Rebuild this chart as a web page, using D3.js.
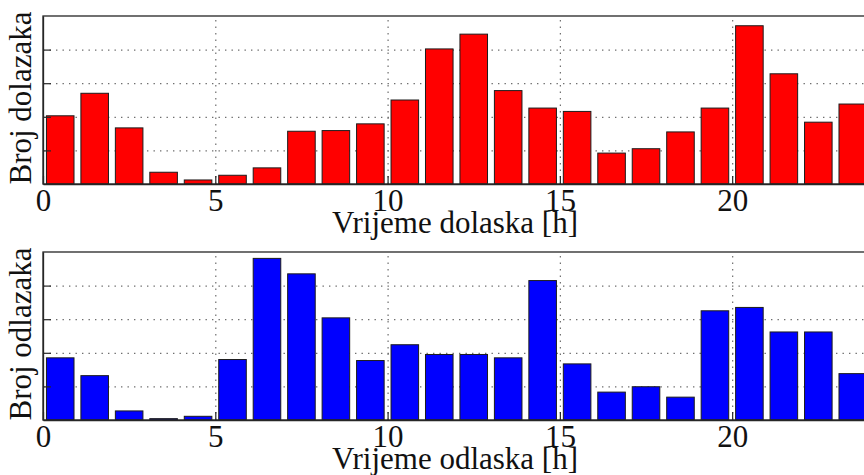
<html>
    <head>
        <script src="https://d3js.org/d3.v7.min.js"></script>
        <style>
            body { margin: 0; background: white; }
        </style>
    </head>
    <body>
        <svg id="chart" width="864" height="475"></svg>
        <script>
            // hours 0..23
            const hours = d3.range(24);
            const dolasci = [20.3, 27.0, 16.7, 3.5, 1.2, 2.6, 4.8, 15.7, 15.9, 17.9, 25.0, 40.2,
                             44.6, 27.8, 22.6, 21.6, 9.2, 10.5, 15.5, 22.6, 47.1, 32.8, 18.4, 23.8];
            const odlasci = [18.5, 13.2, 2.7, 0.4, 1.1, 18.0, 48.1, 43.5, 30.4, 17.7, 22.4, 19.5,
                             19.5, 18.5, 41.5, 16.7, 8.3, 9.9, 6.8, 32.5, 33.5, 26.2, 26.2, 13.8];
            const xTicks = [0, 5, 10, 15, 20];
            const yTicks = [10, 20, 30, 40];

            const serif = "'Liberation Serif', 'DejaVu Serif', 'Times New Roman', Times, serif";

            let svg = d3.select("svg#chart");

            function drawPanel(values, color, top, bottom, yLabel, xLabel) {
                let x = d3.scaleLinear().domain([0, 24]).range([43, 870]);
                let y = d3.scaleLinear().domain([0, 50]).range([bottom, top]);
                let g = svg.append("g");

                // grid
                g.append("g")
                    .attr("transform", `translate(43,0)`)
                    .call(d3.axisLeft(y).tickValues(yTicks).tickSize(-(870 - 43)).tickFormat(""))
                    .call(a => a.select(".domain").remove())
                    .selectAll("line")
                    .attr("stroke", "#6e6e6e").attr("stroke-width", 1.2).attr("stroke-dasharray", "1.4,5.1");
                g.append("g")
                    .attr("transform", `translate(0,${bottom})`)
                    .call(d3.axisBottom(x).tickValues(xTicks.slice(1)).tickSize(-(bottom - top)).tickFormat(""))
                    .call(a => a.select(".domain").remove())
                    .selectAll("line")
                    .attr("stroke", "#6e6e6e").attr("stroke-width", 1.2).attr("stroke-dasharray", "1.4,5.1");

                // bars
                g.selectAll("rect.bar").data(hours)
                    .join("rect")
                    .attr("class", "bar")
                    .attr("x", d => x(d + 0.1))
                    .attr("width", x(0.8) - x(0))
                    .attr("y", d => y(values[d]))
                    .attr("height", d => y(0) - y(values[d]))
                    .attr("fill", color)
                    .attr("stroke", "#1c1c1c")
                    .attr("stroke-width", 1);

                // box
                g.append("rect")
                    .attr("x", 43).attr("y", top)
                    .attr("width", 870 - 43).attr("height", bottom - top)
                    .attr("fill", "none").attr("stroke", "#262626").attr("stroke-width", 1.3);

                // axes
                let xa = g.append("g")
                    .attr("transform", `translate(0,${bottom})`)
                    .call(d3.axisBottom(x).tickValues(xTicks).tickSizeInner(-8).tickSizeOuter(0));
                xa.attr("font-family", serif).attr("font-size", 31);
                xa.select(".domain").attr("stroke", "#262626").attr("stroke-width", 1.3);
                xa.selectAll("line").attr("stroke", "#262626").attr("stroke-width", 1.2);
                xa.selectAll("text")
                    .attr("y", 26.5).attr("dy", null)
                    .attr("fill", "#111");

                let ya = g.append("g")
                    .attr("transform", `translate(43,0)`)
                    .call(d3.axisLeft(y).tickValues(yTicks).tickSizeInner(-8).tickSizeOuter(0).tickFormat(""));
                ya.select(".domain").attr("stroke", "#262626").attr("stroke-width", 1.3);
                ya.selectAll("line").attr("stroke", "#262626").attr("stroke-width", 1.2);

                // labels
                g.append("text")
                    .attr("x", 455).attr("y", bottom + 49)
                    .attr("text-anchor", "middle")
                    .attr("fill", "#111")
                    .attr("font-family", serif)
                    .attr("font-size", 31)
                    .text(xLabel);
                g.append("text")
                    .attr("transform", `translate(31,${(top + bottom) / 2 - 2}) rotate(-90)`)
                    .attr("text-anchor", "middle")
                    .attr("fill", "#111")
                    .attr("font-family", serif)
                    .attr("font-size", 31)
                    .text(yLabel);
            }

            drawPanel(dolasci, "#ff0000", 16, 184, "Broj dolazaka", "Vrijeme dolaska [h]");
            drawPanel(odlasci, "#0000ff", 252, 420, "Broj odlazaka", "Vrijeme odlaska [h]");
        </script>
    </body>
</html>
